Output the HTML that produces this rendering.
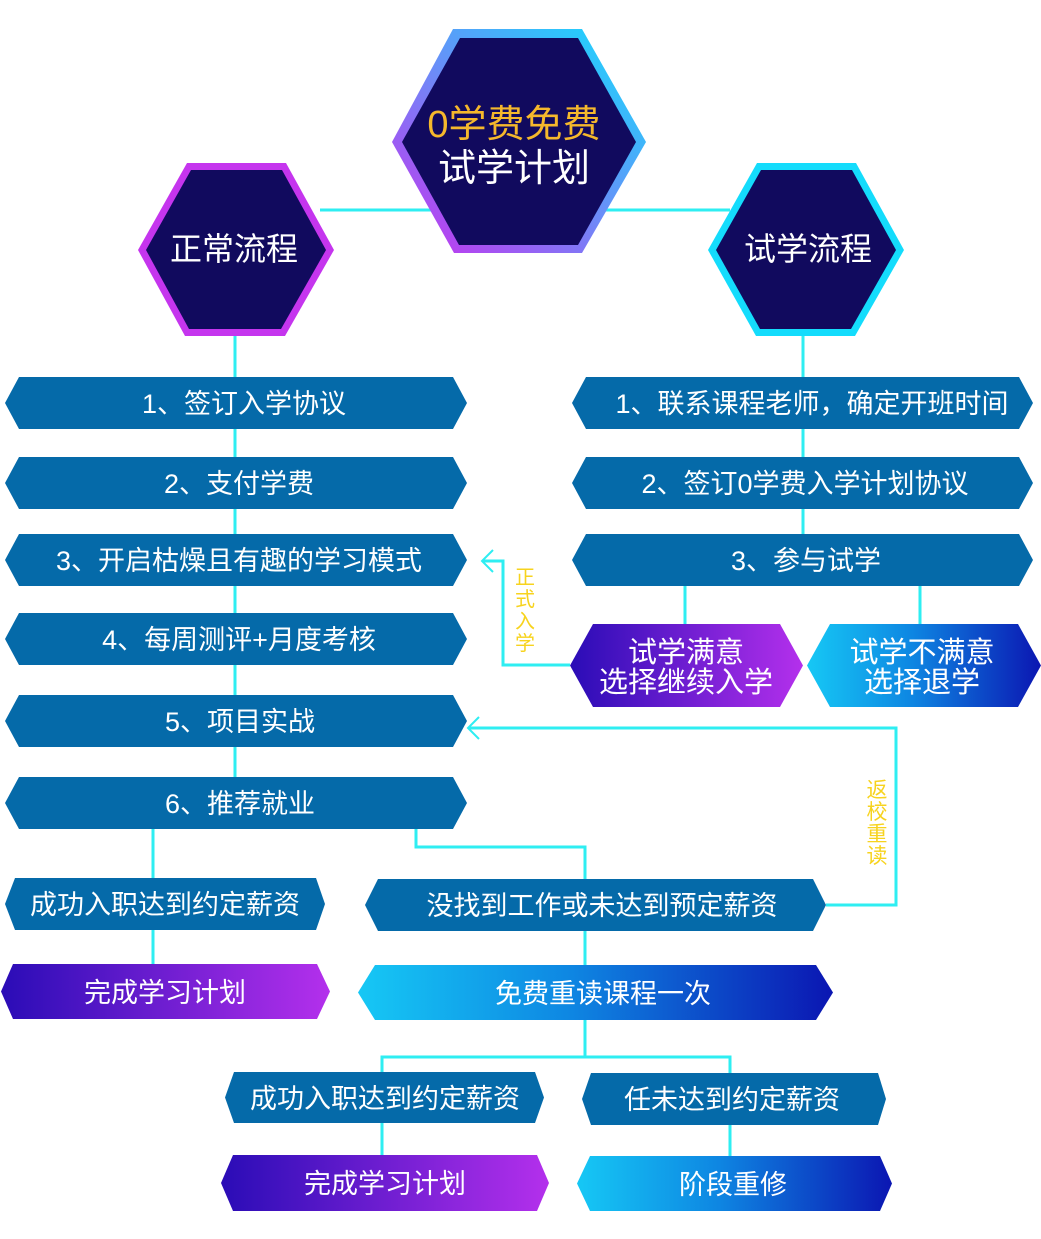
<!DOCTYPE html>
<html>
<head>
<meta charset="utf-8">
<style>
  html,body{margin:0;padding:0;background:#ffffff;}
  svg{display:block;}
  text{font-family:"Liberation Sans","Noto Sans CJK SC",sans-serif;}
</style>
</head>
<body>
<svg width="1041" height="1239" viewBox="0 0 1041 1239" xmlns="http://www.w3.org/2000/svg">
  <defs>
    <linearGradient id="gHex" x1="1" y1="0" x2="0" y2="1">
      <stop offset="0" stop-color="#10e0fd"/>
      <stop offset="0.5" stop-color="#6a8ef8"/>
      <stop offset="1" stop-color="#cc2cee"/>
    </linearGradient>
    <linearGradient id="gPur" x1="0" y1="0" x2="1" y2="0">
      <stop offset="0" stop-color="#2a0cb6"/>
      <stop offset="1" stop-color="#b430ec"/>
    </linearGradient>
    <linearGradient id="gCy" x1="0" y1="0" x2="1" y2="0">
      <stop offset="0" stop-color="#16c8f5"/>
      <stop offset="0.45" stop-color="#0e86e2"/>
      <stop offset="1" stop-color="#0b16b2"/>
    </linearGradient>
  </defs>

  <!-- connectors -->
  <g stroke="#2eeef2" stroke-width="3" fill="none">
    <line x1="320" y1="210" x2="730" y2="210"/>
    <line x1="235" y1="336" x2="235" y2="777"/>
    <line x1="803" y1="336" x2="803" y2="534"/>
    <line x1="685" y1="586" x2="685" y2="624"/>
    <line x1="920" y1="586" x2="920" y2="624"/>
    <polyline points="570,665 503,665 503,561 483,561"/>
    <polyline points="826,905 896,905 896,728 469,728"/>
    <line x1="153" y1="829" x2="153" y2="964"/>
    <polyline points="416,829 416,847 585,847 585,879"/>
    <line x1="585" y1="931" x2="585" y2="965"/>
    <line x1="585" y1="1020" x2="585" y2="1057"/>
    <polyline points="382,1072 382,1057 730,1057 730,1073"/>
    <line x1="382" y1="1123" x2="382" y2="1155"/>
    <line x1="730" y1="1125" x2="730" y2="1156"/>
  </g>
  <g stroke="#2eeef2" stroke-width="2" fill="none">
    <polyline points="493,550 482,561 493,572"/>
    <polyline points="479,717 468,728 479,739"/>
  </g>

  <!-- hexagons -->
  <polygon points="453,29 582,29 646,142 582,253 454,253 392,142" fill="url(#gHex)"/>
  <polygon points="460,38 578,38 636,142 578,245 459,245 402,142" fill="#110a5e"/>

  <polygon points="187,163 286,163 334,250 285,336 185,336 138,250" fill="#c535ee"/>
  <polygon points="191,170 282,170 326,250 281,329 189,329 146,250" fill="#110a5e"/>

  <polygon points="757,163 856,163 904,250 855,336 756,336 708,250" fill="#14dcfc"/>
  <polygon points="761,170 852,170 896,250 851,329 760,329 716,250" fill="#110a5e"/>

  <!-- left column boxes -->
  <g fill="#056aa9">
    <polygon points="5,403 19,377 453,377 467,403 453,429 19,429"/>
    <polygon points="5,483 19,457 453,457 467,483 453,509 19,509"/>
    <polygon points="5,560 19,534 453,534 467,560 453,586 19,586"/>
    <polygon points="5,639 19,613 453,613 467,639 453,665 19,665"/>
    <polygon points="5,721 19,695 453,695 467,721 453,747 19,747"/>
    <polygon points="5,803 19,777 453,777 467,803 453,829 19,829"/>
    <!-- right column -->
    <polygon points="572,403 586,377 1019,377 1033,403 1019,429 586,429"/>
    <polygon points="572,483 586,457 1019,457 1033,483 1019,509 586,509"/>
    <polygon points="572,560 586,534 1019,534 1033,560 1019,586 586,586"/>
    <!-- lower -->
    <polygon points="5,904 15,878 316,878 325,904 316,930 15,930"/>
    <polygon points="365,905 378,879 813,879 826,905 813,931 378,931"/>
    <polygon points="225,1097.5 234,1072 535,1072 544,1097.5 535,1123 234,1123"/>
    <polygon points="582,1099 591,1073 878,1073 886,1099 878,1125 591,1125"/>
  </g>

  <polygon points="570,665.5 593,624 780,624 803,665.5 780,707 593,707" fill="url(#gPur)"/>
  <polygon points="807,665.5 830,624 1018,624 1041,665.5 1018,707 830,707" fill="url(#gCy)"/>
  <polygon points="1,991.5 13,964 317,964 330,991.5 317,1019 13,1019" fill="url(#gPur)"/>
  <polygon points="358,992.5 375,965 816,965 833,992.5 816,1020 375,1020" fill="url(#gCy)"/>
  <polygon points="221,1183 233,1155 537,1155 549,1183 537,1211 233,1211" fill="url(#gPur)"/>
  <polygon points="577,1183.5 590,1156 880,1156 892,1183.5 880,1211 590,1211" fill="url(#gCy)"/>

  <!-- hex text -->
  <text x="514" y="137" font-size="38" fill="#f5b82c" text-anchor="middle">0学费免费</text>
  <text x="514" y="181" font-size="38" fill="#ffffff" text-anchor="middle">试学计划</text>
  <text x="234" y="260" font-size="32" fill="#ffffff" text-anchor="middle">正常流程</text>
  <text x="808" y="260" font-size="32" fill="#ffffff" text-anchor="middle">试学流程</text>

  <!-- box text -->
  <g font-size="27" fill="#ffffff" text-anchor="middle">
    <text x="244" y="413">1、签订入学协议</text>
    <text x="239" y="493">2、支付学费</text>
    <text x="239" y="570">3、开启枯燥且有趣的学习模式</text>
    <text x="239" y="649">4、每周测评+月度考核</text>
    <text x="240" y="731">5、项目实战</text>
    <text x="240" y="813">6、推荐就业</text>

    <text x="812" y="413">1、联系课程老师，确定开班时间</text>
    <text x="805" y="493">2、签订0学费入学计划协议</text>
    <text x="806" y="570">3、参与试学</text>

    <text x="165" y="914">成功入职达到约定薪资</text>
    <text x="165" y="1002">完成学习计划</text>
    <text x="602" y="915">没找到工作或未达到预定薪资</text>
    <text x="603" y="1003">免费重读课程一次</text>
    <text x="385" y="1108">成功入职达到约定薪资</text>
    <text x="732" y="1109">任未达到约定薪资</text>
    <text x="385" y="1193">完成学习计划</text>
    <text x="733" y="1194">阶段重修</text>
  </g>
  <g font-size="29" fill="#ffffff" text-anchor="middle">
    <text x="686" y="662">试学满意</text>
    <text x="686" y="692">选择继续入学</text>
    <text x="922" y="662">试学不满意</text>
    <text x="922" y="692">选择退学</text>
  </g>

  <!-- yellow vertical labels -->
  <g font-size="20" fill="#f7d31e" text-anchor="middle">
    <text x="525" y="584">正</text>
    <text x="525" y="606">式</text>
    <text x="525" y="628">入</text>
    <text x="525" y="650">学</text>
  </g>
  <g font-size="21" fill="#f7d31e" text-anchor="middle">
    <text x="877" y="797">返</text>
    <text x="877" y="819">校</text>
    <text x="877" y="841">重</text>
    <text x="877" y="863">读</text>
  </g>
</svg>
</body>
</html>
